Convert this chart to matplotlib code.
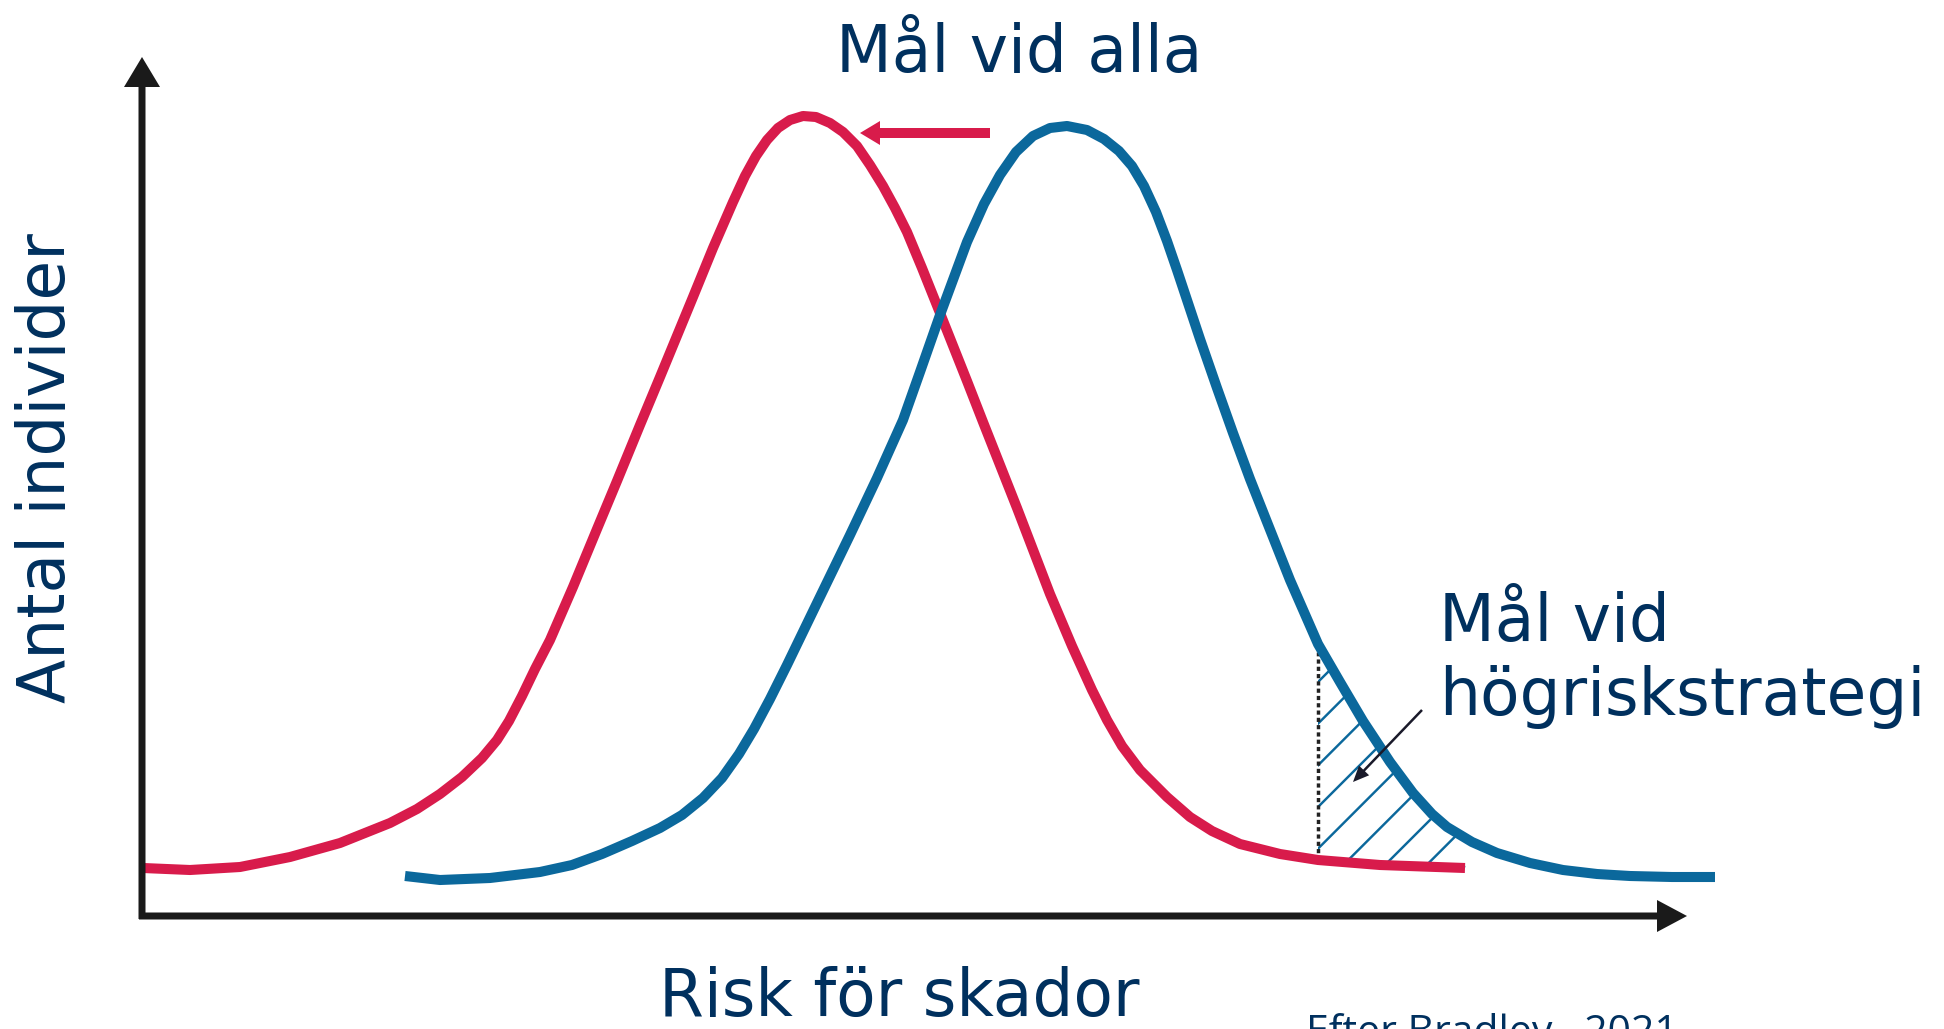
import numpy as np
import matplotlib
matplotlib.use("Agg")
import matplotlib.pyplot as plt
from matplotlib.patches import FancyArrow

# Kurvor (risk, antal individer)
rod_x = [1, 48, 98, 148, 198, 248, 275, 298, 320, 340, 355, 367, 380, 393, 408,
         431, 455, 475, 498, 518, 551, 571, 591, 603, 614, 625, 636, 648, 661,
         674, 688, 701, 715, 728, 741, 753, 765, 780, 798, 825, 841, 875, 908,
         930, 950, 965, 980, 998, 1025, 1048, 1070, 1098, 1138, 1176, 1238, 1323]
rod_y = [48, 46, 49, 59, 73, 93, 107, 122, 139, 158, 176, 195, 220, 247, 276,
         329, 387, 435, 491, 539, 619, 668, 714, 740, 760, 776, 788, 796, 800,
         799, 793, 784, 770, 751, 730, 708, 684, 648, 603, 535, 494, 408, 322,
         270, 226, 196, 170, 146, 119, 99, 85, 72, 62, 56, 51, 48]

bla_x = [263, 298, 348, 398, 430, 460, 490, 518, 540, 561, 580, 597, 612, 628,
         645, 675, 708, 735, 761, 778, 798, 825, 842, 858, 874, 891, 908, 925,
         945, 962, 977, 990, 1002, 1014, 1025, 1035, 1047, 1058, 1075, 1091,
         1108, 1125, 1148, 1176, 1198, 1221, 1248, 1271, 1290, 1305, 1330, 1355,
         1388, 1421, 1455, 1488, 1530, 1573]
bla_y = [40, 36, 38, 44, 51, 62, 75, 88, 101, 118, 138, 162, 187, 217,
         251, 313, 381, 438, 496, 544, 601, 674, 712, 741, 764, 780, 788, 790,
         786, 777, 765, 750, 730, 704, 675, 646, 610, 577, 528, 483,
         437, 394, 336, 272, 234, 195, 154, 123, 102, 89, 74, 63,
         53, 46, 42, 40, 39, 39]

# Högriskgräns och slut på skrafferingen
grans_x = 1176
slut_x = 1330

rod = "#D81B4B"
bla = "#0B689C"
text_farg = "#00305E"

plt.rcParams["hatch.color"] = bla
plt.rcParams["hatch.linewidth"] = 0.7

fig = plt.figure(figsize=(7.776, 4.116), dpi=250)
ax = fig.add_axes([0, 0, 1, 1])
ax.set_xlim(-142, 1802)
ax.set_ylim(-113, 916)
ax.axis("off")

# skrafferat område mellan kurvorna
rx = np.array(rod_x)
ry = np.array(rod_y)
bx = np.array(bla_x)
by = np.array(bla_y)
m_r = (rx >= grans_x) & (rx <= slut_x)
m_b = (bx >= grans_x) & (bx <= slut_x)
px = np.concatenate([rx[m_r], bx[m_b][::-1]])
py = np.concatenate([ry[m_r], by[m_b][::-1]])
ax.fill(px, py, facecolor="none", edgecolor=bla, linewidth=0, hatch="//", zorder=1)

ax.plot([grans_x, grans_x], [ry[rx == grans_x][0], by[bx == grans_x][0] - 8],
        color="#222222", lw=1.0, linestyle=(0, (1.2, 0.9)), zorder=2)

ax.plot(rod_x, rod_y, color=rod, lw=2.9, solid_capstyle="butt",
        solid_joinstyle="round", zorder=3)
ax.plot(bla_x, bla_y, color=bla, lw=2.9, solid_capstyle="butt",
        solid_joinstyle="round", zorder=3)

# axlar
ax.add_patch(FancyArrow(0, -3, 0, 862, width=7, head_width=36, head_length=30,
                        length_includes_head=True, color="#1a1a1a", lw=0, zorder=4))
ax.add_patch(FancyArrow(-3, 0, 1548, 0, width=7, head_width=32, head_length=30,
                        length_includes_head=True, color="#1a1a1a", lw=0, zorder=4))

# pil: förskjutning av hela fördelningen
ax.add_patch(FancyArrow(848, 783, -130, 0, width=10, head_width=24, head_length=20,
                        length_includes_head=True, color=rod, lw=0, zorder=4))
# pil: högriskgruppen
ax.add_patch(FancyArrow(1280, 206, -69, -72, width=2.5, head_width=14, head_length=16,
                        length_includes_head=True, color="#1a1a2a", lw=0, zorder=4))

ax.text(877, 844, "Mål vid alla", ha="center", va="baseline",
        fontsize=18.6, color=text_farg)
ax.text(-95, 448, "Antal individer", ha="center", va="center", rotation=90,
        fontsize=18.6, color=text_farg)
ax.text(757, -100, "Risk för skador", ha="center", va="baseline",
        fontsize=18.6, color=text_farg)
ax.text(1297, 275, "Mål vid", ha="left", va="baseline",
        fontsize=18.6, color=text_farg)
ax.text(1297, 201, "högriskstrategi", ha="left", va="baseline",
        fontsize=18.6, color=text_farg)
ax.text(1164, -128, "Efter Bradley,  2021", ha="left", va="baseline",
        fontsize=11.8, color=text_farg, family=["Open Sans", "DejaVu Sans"])

fig.savefig("out.png", dpi=250)
